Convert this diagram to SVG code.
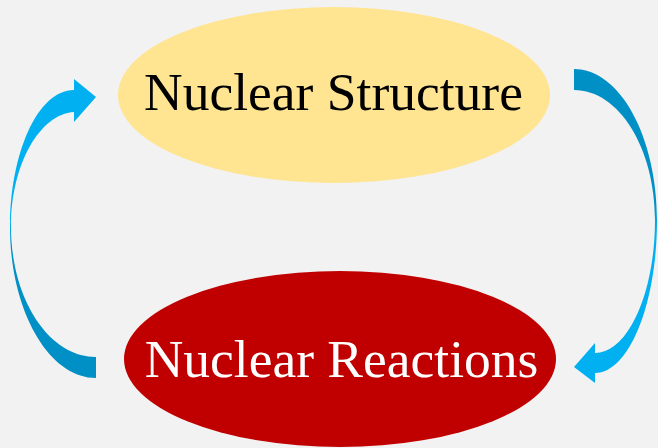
<svg xmlns="http://www.w3.org/2000/svg" width="658" height="448" viewBox="0 0 658 448">
  <defs>
    <linearGradient id="gLeft" gradientUnits="userSpaceOnUse" x1="0" y1="79" x2="0" y2="378">
      <stop offset="0" stop-color="#00B0F0"/>
      <stop offset="0.48" stop-color="#00B0F0"/>
      <stop offset="0.55" stop-color="#0090C6"/>
      <stop offset="1" stop-color="#0090C6"/>
    </linearGradient>
    <linearGradient id="gRight" gradientUnits="userSpaceOnUse" x1="0" y1="69" x2="0" y2="383">
      <stop offset="0" stop-color="#0090C6"/>
      <stop offset="0.43" stop-color="#0090C6"/>
      <stop offset="0.52" stop-color="#00B0F0"/>
      <stop offset="1" stop-color="#00B0F0"/>
    </linearGradient>
    <style>
      .label { font-family: "Liberation Serif", "Times New Roman", serif; font-size: 53.5px; text-anchor: middle; }
    </style>
  </defs>
  <rect x="0" y="0" width="658" height="448" fill="#F2F2F2"/>
  <g id="connectors">
    <path id="arrow-left" fill="url(#gLeft)" d="M96,378 C48.5,378 10,310 10,227 C10,155 37,90 74,90 L74,79 L96,97 L74,122 L74,112 C40,114 11,164 11,227 C11,299 49,357 96,357 Z"/>
    <path id="arrow-right" fill="url(#gRight)" d="M574,69 C620,69 657,137 657,220 C657,304 629,373 595,373 L595,383 L574,367 L595,343 L595,353 C628,353 655,293 655,220 C655,148 619,90 574,90 Z"/>
  </g>
  <g id="node-structure">
    <ellipse cx="334" cy="95" rx="216" ry="88" fill="#FFE491"/>
    <text class="label" x="333.5" y="110" fill="#000000">Nuclear Structure</text>
  </g>
  <g id="node-reactions">
    <ellipse cx="340" cy="359" rx="216" ry="88" fill="#C00000"/>
    <text class="label" x="341.5" y="377" fill="#FFFFFF">Nuclear Reactions</text>
  </g>
</svg>
